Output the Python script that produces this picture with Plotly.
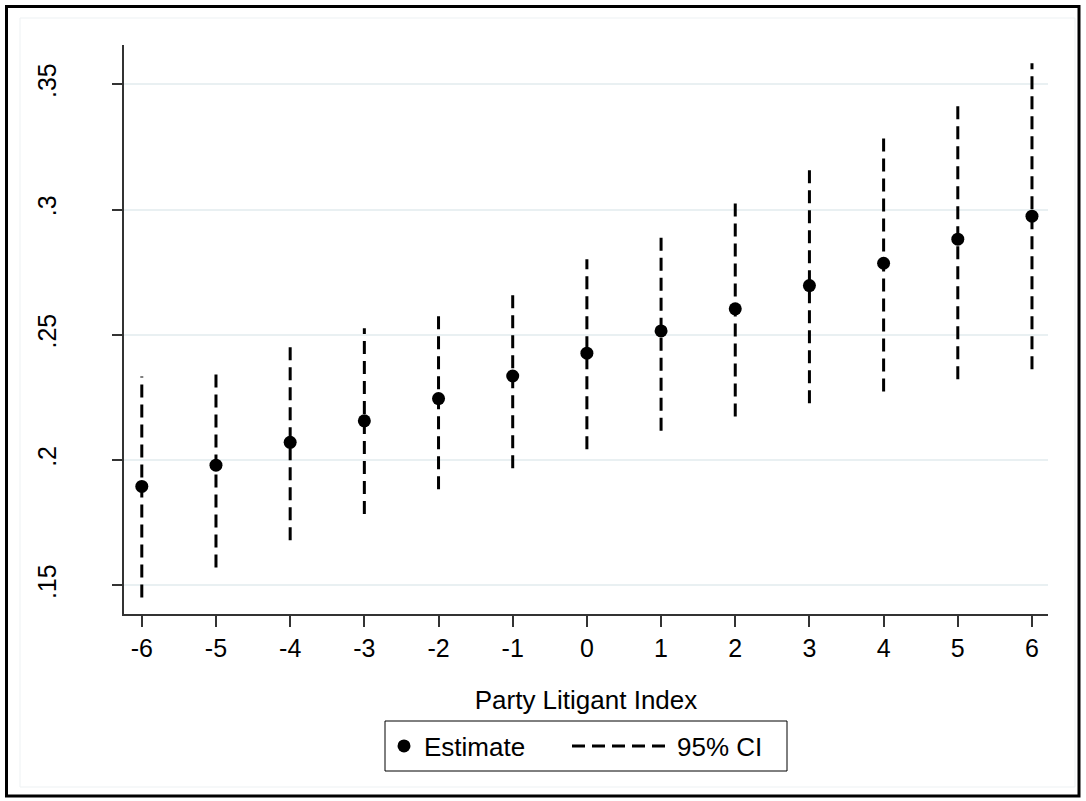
import plotly.graph_objects as go

# Data
x_vals = [-6, -5, -4, -3, -2, -1, 0, 1, 2, 3, 4, 5, 6]
estimate = [0.1895, 0.1980, 0.2071, 0.2157, 0.2246, 0.2336, 0.2427, 0.2516, 0.2604, 0.2697, 0.2786, 0.2882, 0.2974]
ci_lower = [0.1452, 0.1572, 0.1680, 0.1785, 0.1884, 0.1968, 0.2044, 0.2117, 0.2174, 0.2227, 0.2274, 0.2323, 0.2363]
ci_upper = [0.2334, 0.2363, 0.2454, 0.2526, 0.2583, 0.2672, 0.2802, 0.2909, 0.3036, 0.3161, 0.3297, 0.3437, 0.3584]
y_tickvals = [0.15, 0.20, 0.25, 0.30, 0.35]
y_ticktext = [".15", ".2", ".25", ".3", ".35"]
x_title = "Party Litigant Index"

W, H = 1086, 801
L, R, T, B = 124, 38, 45, 187
PW, PH = W - L - R, H - T - B
FONT = "Liberation Sans, Arial, sans-serif"

def px_to_paper(px, py):
    return (px - L) / PW, (H - B - py) / PH

fig = go.Figure()

for i, xv in enumerate(x_vals):
    fig.add_trace(go.Scatter(
        x=[xv, xv], y=[ci_lower[i], ci_upper[i]],
        mode="lines",
        line=dict(color="black", width=3, dash="13px,7px"),
        name="95% CI", legendgroup="ci", showlegend=(i == 0),
        legend="legend2", hoverinfo="skip",
    ))

fig.add_trace(go.Scatter(
    x=x_vals, y=estimate, mode="markers",
    marker=dict(color="black", size=13, line=dict(width=0)),
    name="Estimate", legend="legend",
))

# frame shapes
x0, y0 = px_to_paper(20, 18)
x1, y1 = px_to_paper(1075, 787)
fig.add_shape(type="rect", xref="paper", yref="paper", x0=x0, y0=y1, x1=x1, y1=y0,
              line=dict(color="#edf1f3", width=1), layer="below")
x0, y0 = px_to_paper(6.5, 6.5)
x1, y1 = px_to_paper(1079, 796)
fig.add_shape(type="rect", xref="paper", yref="paper", x0=x0, y0=y1, x1=x1, y1=y0,
              line=dict(color="black", width=3))
# legend frame
x0, y0 = px_to_paper(385, 721)
x1, y1 = px_to_paper(787, 771)
fig.add_shape(type="rect", xref="paper", yref="paper", x0=x0, y0=y1, x1=x1, y1=y0,
              line=dict(color="black", width=1))

_, ly = px_to_paper(0, 746)
l1x, _ = px_to_paper(384, 0)
l2x, _ = px_to_paper(567, 0)

leg_common = dict(orientation="h", yanchor="middle", xanchor="left", y=ly,
                  borderwidth=0, bgcolor="rgba(0,0,0,0)",
                  font=dict(size=26, family=FONT, color="black"))

fig.update_layout(
    width=W, height=H,
    margin=dict(l=L, r=R, t=T, b=B),
    paper_bgcolor="white", plot_bgcolor="white",
    font=dict(family=FONT, color="black", size=25),
    showlegend=True,
    legend=dict(x=l1x, itemwidth=30, **leg_common),
    legend2=dict(x=l2x, itemwidth=100, **leg_common),
    xaxis=dict(
        range=[-6.24, 6.216], tickvals=x_vals, ticktext=[str(v) for v in x_vals],
        showgrid=False, zeroline=False,
        showline=True, linecolor="#333333", linewidth=1.5,
        ticks="outside", ticklen=11, tickwidth=1.5, tickcolor="#333333",
        tickfont=dict(size=25, family=FONT),
        title=dict(text=x_title, font=dict(size=26, family=FONT), standoff=30),
    ),
    yaxis=dict(
        range=[0.1386, 0.3657], tickvals=y_tickvals, ticktext=y_ticktext,
        tickangle=-90,
        showgrid=True, gridcolor="#e9f0f2", gridwidth=2, zeroline=False,
        showline=True, linecolor="#333333", linewidth=1.5,
        ticks="outside", ticklen=10, tickwidth=1.5, tickcolor="#333333",
        tickfont=dict(size=25, family=FONT), ticklabelstandoff=46,
    ),
)

fig.write_html("out.html")
